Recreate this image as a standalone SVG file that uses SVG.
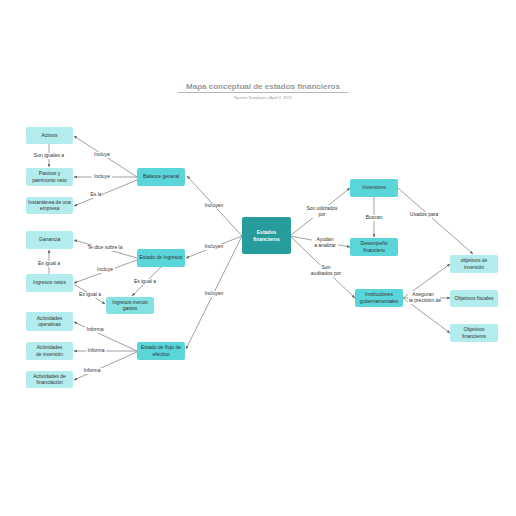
<svg xmlns="http://www.w3.org/2000/svg" width="516" height="516" viewBox="0 0 516 516">
<defs>
<marker id="ah" viewBox="0 0 10 10" refX="9" refY="5" markerWidth="5" markerHeight="5" orient="auto"><path d="M0,1 L10,5 L0,9 Z" fill="#666"/></marker>
<style>
.n rect{rx:2;ry:2}
.l rect{fill:#b3ecec}
.m rect{fill:#5ad5d9}
.p rect{fill:#84e2e2}
.c rect{fill:#279c9c}
text{font-family:"Liberation Sans",Arial,sans-serif;font-size:5px;fill:#333;text-anchor:middle;dominant-baseline:middle}
.c text{fill:#fff;font-weight:bold}
#conn line, #conn path{stroke:#777;stroke-width:0.7;fill:none;marker-end:url(#ah)}
.lb rect{fill:#fff}
</style>
</defs>
<rect width="516" height="516" fill="#fff"/>
<text x="263" y="87" style="font-size:8px;font-weight:bold;fill:#999">Mapa conceptual de estados financieros</text>
<line x1="178" y1="92.5" x2="348" y2="92.5" stroke="#999" stroke-width="0.7"/>
<text x="263" y="97.5" style="font-size:4px;fill:#999">System Templates  |  April 2, 2025</text>

<g id="conn">
<line x1="137" y1="177" x2="74" y2="136"/>
<line x1="137" y1="177" x2="74" y2="177"/>
<line x1="137" y1="180" x2="74" y2="206"/>
<line x1="49" y1="144" x2="49" y2="167"/>
<line x1="137" y1="258" x2="74" y2="240"/>
<line x1="137" y1="260" x2="74" y2="283"/>
<line x1="49" y1="274" x2="49" y2="250"/>
<line x1="161" y1="267" x2="132" y2="296"/>
<line x1="74" y1="284" x2="105" y2="304"/>
<line x1="137" y1="351" x2="74" y2="322"/>
<line x1="137" y1="351" x2="74" y2="351"/>
<line x1="137" y1="352" x2="74" y2="380"/>
<line x1="242" y1="236" x2="187" y2="176"/>
<line x1="242" y1="236" x2="186" y2="258"/>
<line x1="242" y1="236" x2="186" y2="349"/>
<line x1="290" y1="236" x2="350" y2="188"/>
<line x1="290" y1="236" x2="350" y2="247"/>
<line x1="290" y1="236" x2="355" y2="298"/>
<line x1="374" y1="197" x2="374" y2="237"/>
<line x1="398" y1="188" x2="473" y2="254"/>
<line x1="403" y1="298" x2="450" y2="264"/>
<line x1="403" y1="298" x2="450" y2="298"/>
<line x1="403" y1="298" x2="450" y2="333"/>
</g>

<g id="labels">
<g class="lb"><rect x="92" y="152" width="20" height="6"/><text x="102" y="155">Incluye</text></g>
<g class="lb"><rect x="92" y="174" width="20" height="6"/><text x="102" y="177">Incluye</text></g>
<g class="lb"><rect x="90" y="192" width="12" height="6"/><text x="96" y="195">Es la</text></g>
<g class="lb"><rect x="33" y="153" width="32" height="6"/><text x="49" y="156">Son iguales a</text></g>
<g class="lb"><rect x="86" y="245" width="38" height="6"/><text x="105" y="248">Te dice sobre la</text></g>
<g class="lb"><rect x="96" y="267" width="19" height="6"/><text x="105" y="270">Incluye</text></g>
<g class="lb"><rect x="38" y="261" width="23" height="6"/><text x="49" y="264">Es igual a</text></g>
<g class="lb"><rect x="134" y="279" width="23" height="6"/><text x="145" y="282">Es igual a</text></g>
<g class="lb"><rect x="79" y="292" width="23" height="6"/><text x="90" y="295">Es igual a</text></g>
<g class="lb"><rect x="85" y="327" width="20" height="6"/><text x="95" y="330">Informa</text></g>
<g class="lb"><rect x="86" y="348" width="20" height="6"/><text x="96" y="351">Informa</text></g>
<g class="lb"><rect x="82" y="368" width="20" height="6"/><text x="92" y="371">Informa</text></g>
<g class="lb"><rect x="203" y="203" width="22" height="6"/><text x="214" y="206">Incluyen</text></g>
<g class="lb"><rect x="203" y="244" width="22" height="6"/><text x="214" y="247">Incluyen</text></g>
<g class="lb"><rect x="203" y="291" width="22" height="6"/><text x="214" y="294">Incluyen</text></g>
<g class="lb"><rect x="304" y="205" width="36" height="13"/><text x="322" y="208.5">Son utilizados</text><text x="322" y="214.5">por</text></g>
<g class="lb"><rect x="312" y="237" width="26" height="12"/><text x="325" y="240">Ayudan</text><text x="325" y="246">a analizar</text></g>
<g class="lb"><rect x="310" y="265" width="32" height="12"/><text x="326" y="268">Son</text><text x="326" y="274">auditados por</text></g>
<g class="lb"><rect x="364" y="215" width="20" height="6"/><text x="374" y="218">Buscan</text></g>
<g class="lb"><rect x="413" y="212" width="22" height="6"/><text x="424" y="215">Usados para</text></g>
<g class="lb"><rect x="408" y="291" width="32" height="13"/><text x="423" y="294.5">Aseguran</text><text x="425" y="300.5">la precisión de</text></g>
</g>

<g id="activos" class="n l"><rect x="26" y="127" width="47" height="17"/><text x="49.5" y="135.5">Activos</text></g>
<g id="pasivos" class="n l"><rect x="26" y="168" width="47" height="18"/><text x="49.5" y="174">Pasivos y</text><text x="49.5" y="180.5">patrimonio neto</text></g>
<g id="instantanea" class="n l"><rect x="26" y="197" width="47" height="17"/><text x="49.5" y="202.5">Instantánea de una</text><text x="49.5" y="209">empresa</text></g>
<g id="balance" class="n m"><rect x="137" y="168" width="48" height="18"/><text x="161" y="177">Balance general</text></g>
<g id="ganancia" class="n l"><rect x="26" y="231" width="47" height="18"/><text x="49.5" y="240">Ganancia</text></g>
<g id="ingresosnetos" class="n l"><rect x="26" y="274" width="47" height="18"/><text x="49.5" y="283">Ingresos netos</text></g>
<g id="estadoingresos" class="n m"><rect x="137" y="249" width="48" height="18"/><text x="161" y="258">Estado de Ingresos</text></g>
<g id="ingresosmenos" class="n p"><rect x="106" y="297" width="48" height="17"/><text x="130" y="302.5">Ingresos menos</text><text x="130" y="309">gastos</text></g>
<g id="operativas" class="n l"><rect x="26" y="312" width="47" height="19"/><text x="49.5" y="318.5">Actividades</text><text x="49.5" y="325">operativas</text></g>
<g id="inversion" class="n l"><rect x="26" y="342" width="47" height="18"/><text x="49.5" y="348">Actividades</text><text x="49.5" y="354.5">de inversión</text></g>
<g id="financiacion" class="n l"><rect x="26" y="371" width="47" height="17"/><text x="49.5" y="376.5">Actividades de</text><text x="49.5" y="383">financiación</text></g>
<g id="flujo" class="n m"><rect x="137" y="342" width="48" height="18"/><text x="161" y="348">Estado de flujo de</text><text x="161" y="354.5">efectivo</text></g>
<g id="estados" class="n c"><rect x="242" y="217" width="49" height="37"/><text x="266.5" y="232.5">Estados</text><text x="266.5" y="239.5">financieros</text></g>
<g id="inversores" class="n m"><rect x="350" y="179" width="48" height="18"/><text x="374" y="188">Inversores</text></g>
<g id="desempeno" class="n m"><rect x="350" y="238" width="48" height="18"/><text x="374" y="244">Desempeño</text><text x="374" y="250.5">financiero</text></g>
<g id="instituciones" class="n m"><rect x="355" y="289" width="48" height="18"/><text x="379" y="295">Instituciones</text><text x="379" y="301.5">gubernamentales</text></g>
<g id="objinversion" class="n l"><rect x="450" y="255" width="48" height="18"/><text x="474" y="261">objetivos de</text><text x="474" y="267.5">inversión</text></g>
<g id="objfiscales" class="n l"><rect x="450" y="290" width="48" height="17"/><text x="474" y="298.5">Objetivos fiscales</text></g>
<g id="objfinancieros" class="n l"><rect x="450" y="324" width="48" height="18"/><text x="474" y="330">Objetivos</text><text x="474" y="336.5">financieros</text></g>
</svg>
